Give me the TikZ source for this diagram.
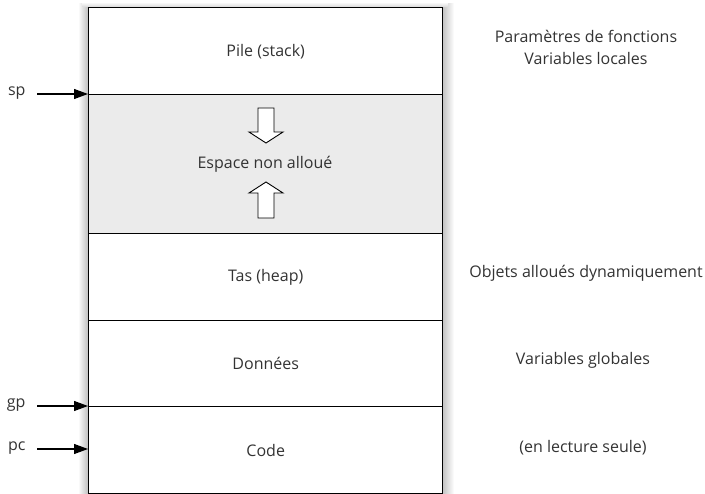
\documentclass[tikz,border=0pt]{standalone}
\usepackage{fontspec}
\setmainfont{Open Sans}
\usetikzlibrary{arrows.meta}
\definecolor{freegray}{HTML}{EBEBEB}
\definecolor{txt}{HTML}{333333}
\begin{document}
\begin{tikzpicture}[x=1pt,y=-1pt,
  seg/.style={draw=black,line width=1.4pt,minimum width=354pt,inner sep=0pt,anchor=north west,font=\fontsize{16}{19}\selectfont,text=txt},
  lab/.style={font=\fontsize{16}{22}\selectfont,text=txt,align=center},
  ptr/.style={-{Triangle[length=14pt,width=10pt]},line width=1.1pt},
  blockarrow/.style={draw=black,fill=white,line width=0.9pt}]
\useasboundingbox (0,0) rectangle (705,494);
% shadows
\shade[left color=white,right color=black!25] (78,4) rectangle (88,494);
\shade[left color=black!25,right color=white] (442,4) rectangle (454,494);
\shade[top color=white,bottom color=black!15] (82,2) rectangle (448,7);
% segments
\node[seg,minimum height=87pt] (pile) at (88,7) {Pile (stack)};
\node[seg,minimum height=139pt,fill=freegray] (free) at (88,94) {};
\node[seg,minimum height=87pt] (tas) at (88,233) {Tas (heap)};
\node[seg,minimum height=86pt] (donnees) at (88,320) {Données};
\node[seg,minimum height=87pt] (code) at (88,406) {Code};
\node[lab] (esp) at (265,164) {Espace non alloué};
% block arrows
\draw[blockarrow] (258,108) -- (274,108) -- (274,132) -- (283,132) -- (266,143) -- (249,132) -- (258,132) -- cycle;
\draw[blockarrow] (258,218) -- (274,218) -- (274,193) -- (283,193) -- (266,182) -- (249,193) -- (258,193) -- cycle;
% pointer labels
\node[lab,anchor=east] (sp) at (29,93) {sp};
\node[lab,anchor=east] (gp) at (29,405) {gp};
\node[lab,anchor=east] (pc) at (29,448) {pc};
\coordinate (spend) at (88,94);
\coordinate (gpend) at (88,406);
\coordinate (pcend) at (88,449);
\draw[ptr] (37,94) -- (spend);
\draw[ptr] (37,406) -- (gpend);
\draw[ptr] (37,449) -- (pcend);
% right-hand descriptions
\node[lab] (params) at (586,47) {Paramètres de fonctions\\Variables locales};
\node[lab] (objets) at (586,273) {Objets alloués dynamiquement};
\node[lab] (glob) at (583,360) {Variables globales};
\node[lab] (ro) at (583,448) {(en lecture seule)};
\end{tikzpicture}
\end{document}
